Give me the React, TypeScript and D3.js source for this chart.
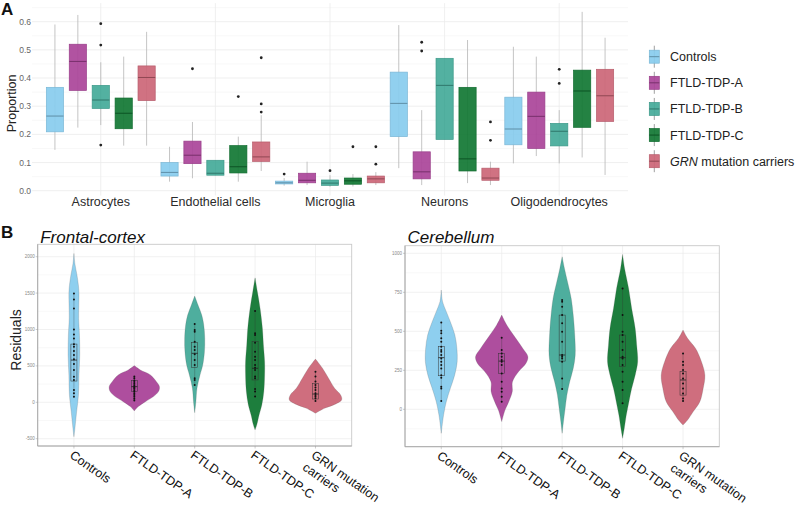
import React from 'react';
import * as d3 from 'd3';

const groups = ['Controls', 'FTLD-TDP-A', 'FTLD-TDP-B', 'FTLD-TDP-C', 'GRN mutation carriers'];
const groupColors = ['#88CCEE', '#AA4499', '#44AA99', '#117733', '#CC6677'];

// ---- panel A: cell type proportions ----
const cellTypes = ['Astrocytes', 'Endothelial cells', 'Microglia', 'Neurons', 'Oligodendrocytes'];
const proportionTicks = [0, 0.1, 0.2, 0.3, 0.4, 0.5, 0.6];

// per group: [lower whisker, q1, median, q3, upper whisker]
const astrocytes = [
  [0.145, 0.209, 0.265, 0.367, 0.59],
  [0.224, 0.356, 0.459, 0.52, 0.624],
  [0.233, 0.292, 0.322, 0.374, 0.456],
  [0.16, 0.22, 0.275, 0.329, 0.476],
  [0.16, 0.32, 0.402, 0.443, 0.564],
];
const endothelialCells = [
  [0.032, 0.052, 0.065, 0.1, 0.156],
  [0.044, 0.096, 0.126, 0.176, 0.244],
  [0.055, 0.055, 0.062, 0.108, 0.108],
  [0.032, 0.063, 0.085, 0.16, 0.192],
  [0.07, 0.104, 0.12, 0.173, 0.268],
];
const microglia = [
  [0.018, 0.024, 0.028, 0.034, 0.045],
  [0.02, 0.028, 0.037, 0.062, 0.103],
  [0.014, 0.019, 0.027, 0.038, 0.055],
  [0.015, 0.023, 0.035, 0.045, 0.059],
  [0.02, 0.028, 0.042, 0.052, 0.066],
];
const neurons = [
  [0.08, 0.192, 0.31, 0.421, 0.588],
  [0.02, 0.042, 0.067, 0.138, 0.286],
  [0.182, 0.182, 0.374, 0.47, 0.47],
  [0.027, 0.07, 0.113, 0.367, 0.535],
  [0.02, 0.037, 0.045, 0.08, 0.103],
];
const oligodendrocytes = [
  [0.097, 0.163, 0.219, 0.332, 0.511],
  [0.123, 0.15, 0.264, 0.35, 0.476],
  [0.097, 0.159, 0.211, 0.239, 0.286],
  [0.118, 0.225, 0.354, 0.428, 0.635],
  [0.056, 0.246, 0.337, 0.431, 0.543],
];
const astrocyteOutliers = [[], [], [0.593, 0.517, 0.162], [], []];
const endothelialOutliers = [[], [0.433], [], [0.334], [0.472, 0.308, 0.279]];
const microgliaOutliers = [[0.059], [], [0.071], [0.156], [0.156, 0.094]];
const neuronOutliers = [[], [0.527, 0.496], [], [], [0.244, 0.179]];
const oligodendrocyteOutliers = [[], [], [0.431, 0.381], [], []];

// ---- panel B: residuals ----
const violinLabels = ['Controls', 'FTLD-TDP-A', 'FTLD-TDP-B', 'FTLD-TDP-C', 'GRN mutation\ncarriers'];
const frontalTicks = [-500, 0, 500, 1000, 1500, 2000];
const cerebellumTicks = [0, 250, 500, 750, 1000];

// violin outlines: [residual, density]
const frontalViolins = [
  [[2044, 0], [1900, 1], [1750, 3], [1600, 4.5], [1495, 5], [1300, 4.8], [1150, 4.7], [920, 5.5], [650, 5.8], [376, 5], [100, 4.5], [-128, 2.7], [-356, 1], [-472, 0]],
  [[504, 0], [444, 6], [376, 16], [283, 22], [215, 25], [147, 24], [78, 19], [9, 11], [-58, 4], [-118, 0]],
  [[1459, 0], [1335, 3.3], [1198, 7], [1061, 9], [878, 10], [695, 9.7], [512, 8], [376, 5.3], [193, 2.3], [9, 1.2], [-143, 0]],
  [[1710, 0], [1518, 2.3], [1290, 5], [1015, 7.3], [787, 8.3], [558, 9.5], [376, 9.5], [147, 8.7], [-36, 6.7], [-173, 4], [-310, 1.7], [-380, 0]],
  [[595, 0], [467, 7], [330, 13], [193, 19], [101, 25], [33, 26], [-36, 18], [-82, 9], [-151, 0]],
];
const frontalPoints = [
  [1495, 1413, 1289, 1001, 933, 878, 796, 763, 704, 649, 590, 525, 443, 351, 306, 169, 124, 77],
  [353, 330, 300, 280, 255, 235, 215, 200, 185, 165, 145, 120, 100, 75, 50, 25],
  [1075, 993, 970, 832, 764, 718, 659, 581, 512, 330, 307, 238],
  [1253, 947, 924, 819, 695, 627, 581, 512, 476, 444, 353, 330, 184, 147, 78],
  [421, 353, 284, 238, 202, 170, 124, 101, 78, 56, 19],
];
// [q1, median, q3]
const frontalBoxes = [
  [292, 580, 800],
  [147, 215, 297],
  [476, 673, 823],
  [307, 467, 832],
  [45, 114, 260],
];

const cerebellumViolins = [
  [[764, 0], [690, 1.3], [626, 5], [561, 9], [476, 13.5], [390, 15.5], [305, 15.8], [219, 13.3], [134, 9], [49, 5], [-37, 2.3], [-154, 0]],
  [[604, 0], [540, 5], [476, 11.7], [390, 21], [337, 26], [294, 24], [241, 16.7], [177, 10.7], [113, 10.5], [49, 7], [-5, 3.3], [-79, 0]],
  [[978, 0], [903, 2.3], [818, 5.3], [711, 9], [604, 11], [476, 12.5], [348, 13], [262, 11], [177, 7.5], [91, 4.7], [6, 3], [-80, 1.3], [-154, 0]],
  [[993, 0], [903, 2], [775, 6], [647, 9], [519, 12.5], [412, 14], [305, 15], [219, 12.5], [134, 9], [49, 6.3], [-37, 3.7], [-122, 1.7], [-186, 0]],
  [[508, 0], [455, 4.5], [390, 12.5], [305, 18.3], [219, 21.7], [134, 20], [49, 16.7], [-16, 10], [-69, 4.5], [-101, 0]],
];
const cerebellumPoints = [
  [557, 504, 487, 455, 433, 401, 380, 369, 348, 326, 305, 284, 262, 219, 202, 145, 134, 53],
  [459, 380, 358, 337, 316, 305, 284, 230, 177, 134, 113, 81, 49],
  [700, 690, 658, 604, 551, 497, 433, 348, 337, 326, 305, 198, 130],
  [775, 604, 497, 476, 433, 380, 337, 326, 284, 241, 177, 123, 38],
  [358, 305, 284, 252, 230, 198, 166, 134, 102, 70, 53],
];
const cerebellumBoxes = [
  [215, 331, 401],
  [230, 309, 358],
  [309, 348, 604],
  [273, 331, 476],
  [91, 188, 241],
];

const FONT = '"Liberation Sans", Arial, Helvetica, sans-serif';
const GRID = '#ebebeb';

function PanelA() {
  const left = 32, right = 628;
  const x = d3.scalePoint<string>().domain(cellTypes).range([left, right]).padding(0.6);
  const step = x.step();
  const dodge = d3.scaleBand<string>().domain(groups).range([-step / 2, step / 2]);
  const boxW = dodge.bandwidth() * 0.75;
  const y = d3.scaleLinear().domain([0, 0.6]).range([190.7, 21.7]);
  const top = y(0.666), bottom = y(-0.017);
  const minor = [0.05, 0.15, 0.25, 0.35, 0.45, 0.55, 0.65];
  const stats = [astrocytes, endothelialCells, microglia, neurons, oligodendrocytes];
  const outs = [astrocyteOutliers, endothelialOutliers, microgliaOutliers, neuronOutliers, oligodendrocyteOutliers];

  return (
    <g>
      {minor.map(v => (
        <line key={'mi' + v} x1={left} x2={right} y1={y(v)} y2={y(v)} stroke="#f3f3f3" strokeWidth={0.6} />
      ))}
      {proportionTicks.map(v => (
        <line key={'ma' + v} x1={left} x2={right} y1={y(v)} y2={y(v)} stroke={GRID} strokeWidth={0.8} />
      ))}
      {cellTypes.map(c => (
        <line key={'v' + c} x1={x(c)} x2={x(c)} y1={top} y2={bottom} stroke={GRID} strokeWidth={0.8} />
      ))}
      {proportionTicks.map(v => (
        <text key={'t' + v} x={left - 1} y={y(v) + 3} textAnchor="end" fontSize={8.5} fill="#666" fontFamily={FONT}>
          {v.toFixed(1)}
        </text>
      ))}
      <text transform={`translate(16,${y(0.31)}) rotate(-90)`} textAnchor="middle" fontSize={12.5} fill="#222" fontFamily={FONT}>
        Proportion
      </text>
      {cellTypes.map((c, ci) =>
        groups.map((g, gi) => {
          const s = stats[ci][gi];
          const cx = (x(c) as number) + (dodge(g) as number) + dodge.bandwidth() / 2;
          const col = groupColors[gi];
          return (
            <g key={c + g}>
              <line x1={cx} x2={cx} y1={y(s[0])} y2={y(s[4])} stroke="#b5b5b5" strokeWidth={0.8} />
              <rect x={cx - boxW / 2} y={y(s[3])} width={boxW} height={Math.max(1, y(s[1]) - y(s[3]))}
                fill={col} fillOpacity={0.92} stroke={d3.color(col)!.darker(0.3).toString()} strokeWidth={0.7} />
              <line x1={cx - boxW / 2} x2={cx + boxW / 2} y1={y(s[2])} y2={y(s[2])}
                stroke={d3.color(col)!.darker(1).toString()} strokeWidth={1} />
              {outs[ci][gi].map((o, k) => (
                <circle key={k} cx={cx} cy={y(o)} r={1.4} fill="#222" />
              ))}
            </g>
          );
        })
      )}
      {cellTypes.map(c => (
        <text key={'l' + c} x={x(c)} y={206} textAnchor="middle" fontSize={12.5} fill="#2b2b2b" fontFamily={FONT}>
          {c}
        </text>
      ))}
    </g>
  );
}

function Legend() {
  const ly = d3.scalePoint<string>().domain(groups).range([56.7, 161.2]);
  return (
    <g>
      {groups.map((g, i) => {
        const cy = ly(g) as number;
        const col = groupColors[i];
        return (
          <g key={g}>
            <line x1={654.3} x2={654.3} y1={cy - 11} y2={cy + 11} stroke="#888" strokeWidth={0.8} />
            <rect x={649.3} y={cy - 6.5} width={10} height={13} fill={col} fillOpacity={0.92}
              stroke={d3.color(col)!.darker(0.3).toString()} strokeWidth={0.7} />
            <line x1={649.3} x2={659.3} y1={cy} y2={cy} stroke={d3.color(col)!.darker(1).toString()} strokeWidth={1} />
            <text x={670} y={cy + 4.5} fontSize={12.5} fill="#222" fontFamily={FONT}>
              {g.startsWith('GRN') ? (
                <>
                  <tspan fontStyle="italic">GRN</tspan>
                  <tspan> mutation carriers</tspan>
                </>
              ) : g}
            </text>
          </g>
        );
      })}
    </g>
  );
}

type ViolinProps = {
  title: string;
  x0: number; x1: number; top: number; bottom: number;
  domain: [number, number]; range: [number, number];
  ticks: number[];
  violins: number[][][];
  points: number[][];
  boxes: number[][];
};

function ViolinPanel(p: ViolinProps) {
  const x = d3.scalePoint<string>().domain(violinLabels).range([p.x0, p.x1]).padding(0.6);
  const step = x.step();
  const y = d3.scaleLinear().domain(p.domain).range(p.range);
  const w = d3.scaleLinear().domain([0, 30]).range([0, step * 0.5]);
  const tStep = p.ticks[1] - p.ticks[0];
  const minor = d3.range(p.ticks[0] - tStep / 2, p.ticks[p.ticks.length - 1] + tStep, tStep)
    .filter(v => y(v) > p.top && y(v) < p.bottom);
  const boxW = step * 0.1;

  return (
    <g>
      <text x={p.x0 + 2.5} y={242.5} fontSize={17} fontStyle="italic" fill="#111" fontFamily={FONT}>{p.title}</text>
      {minor.map(v => (
        <line key={'mi' + v} x1={p.x0} x2={p.x1} y1={y(v)} y2={y(v)} stroke="#f4f4f4" strokeWidth={0.6} />
      ))}
      {p.ticks.map(v => (
        <line key={'ma' + v} x1={p.x0} x2={p.x1} y1={y(v)} y2={y(v)} stroke={GRID} strokeWidth={0.7} />
      ))}
      {violinLabels.map(c => (
        <line key={'vg' + c} x1={x(c)} x2={x(c)} y1={p.top} y2={p.bottom} stroke={GRID} strokeWidth={0.7} />
      ))}
      <rect x={p.x0} y={p.top} width={p.x1 - p.x0} height={p.bottom - p.top} fill="none" stroke="#c9c9c9" strokeWidth={0.9} />
      <line x1={p.x0} x2={p.x0} y1={p.top} y2={p.bottom} stroke="#a0a0a0" strokeWidth={0.8} />
      <line x1={p.x0} x2={p.x1} y1={p.bottom} y2={p.bottom} stroke="#a0a0a0" strokeWidth={0.8} />
      {p.ticks.map(v => (
        <g key={'tk' + v}>
          <line x1={p.x0 - 2} x2={p.x0} y1={y(v)} y2={y(v)} stroke="#999" strokeWidth={0.5} />
          <text x={p.x0 - 3} y={y(v) + 1.5} textAnchor="end" fontSize={4.5} fill="#888" fontFamily={FONT}>{v}</text>
        </g>
      ))}
      {violinLabels.map((c, i) => {
        const cx = x(c) as number;
        const col = groupColors[i];
        const area = d3.area<number[]>()
          .y(d => y(d[0]))
          .x0(d => cx - w(d[1]))
          .x1(d => cx + w(d[1]))
          .curve(d3.curveCatmullRom.alpha(0.5));
        const b = p.boxes[i];
        return (
          <g key={'vi' + c}>
            <path d={area(p.violins[i]) || ''} fill={col} fillOpacity={0.95} stroke="#555" strokeOpacity={0.5} strokeWidth={0.4} />
            <rect x={cx - boxW / 2} y={y(b[2])} width={boxW} height={y(b[0]) - y(b[2])} fill="none" stroke="#333" strokeWidth={0.5} />
            <line x1={cx - boxW / 2} x2={cx + boxW / 2} y1={y(b[1])} y2={y(b[1])} stroke="#222" strokeWidth={0.8} />
            <line x1={cx} x2={cx} y1={y(d3.max(p.points[i])!)} y2={y(d3.min(p.points[i])!)} stroke="#333" strokeWidth={0.3} />
            {p.points[i].map((v, k) => (
              <circle key={k} cx={cx} cy={y(v)} r={1} fill="#111" />
            ))}
            <line x1={cx} x2={cx} y1={p.bottom} y2={p.bottom + 2.5} stroke="#999" strokeWidth={0.5} />
            <text transform={`translate(${cx - 5},${p.bottom + 11}) rotate(35)`} fontSize={12.5} fill="#111" fontFamily={FONT}>
              {c.split('\n').map((line, li) => (
                <tspan key={li} x={0} dy={li === 0 ? 0 : 15}>{line}</tspan>
              ))}
            </text>
          </g>
        );
      })}
    </g>
  );
}

export default function App() {
  return (
    <svg width={797} height={506} style={{ position: 'absolute', left: 0, top: 0, background: '#fff' }}>
      <rect width={797} height={506} fill="#fff" />
      <text x={1} y={15} fontSize={17} fontWeight="bold" fill="#111" fontFamily={FONT}>A</text>
      <PanelA />
      <Legend />
      <text x={1} y={238} fontSize={17} fontWeight="bold" fill="#111" fontFamily={FONT}>B</text>
      <text transform="translate(21,340) rotate(-90)" textAnchor="middle" fontSize={14} fill="#222" fontFamily={FONT}>Residuals</text>
      <ViolinPanel title="Frontal-cortex" x0={37.7} x1={351.7} top={244.3} bottom={446}
        domain={[-500, 2000]} range={[438.7, 256.7]} ticks={frontalTicks}
        violins={frontalViolins} points={frontalPoints} boxes={frontalBoxes} />
      <ViolinPanel title="Cerebellum" x0={405} x1={719.3} top={245.7} bottom={446.7}
        domain={[0, 1000]} range={[409.3, 253.3]} ticks={cerebellumTicks}
        violins={cerebellumViolins} points={cerebellumPoints} boxes={cerebellumBoxes} />
    </svg>
  );
}
